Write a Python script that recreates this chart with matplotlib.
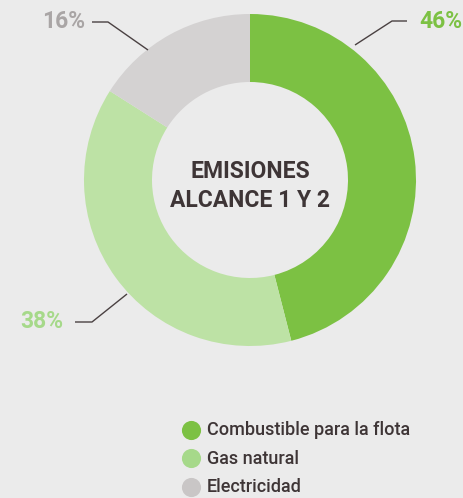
import matplotlib
matplotlib.use("Agg")
import matplotlib.pyplot as plt

categories = ["Combustible para la flota", "Gas natural", "Electricidad"]
values = [46, 38, 16]
pct_labels = ["46%", "38%", "16%"]
colors = ["#7cc143", "#bde2a5", "#d4d2d2"]
label_colors = ["#7cc143", "#a6d98a", "#a9a5a5"]
legend_colors = ["#7cc143", "#a6d98a", "#c9c6c6"]
center_title = "EMISIONES\nALCANCE 1 Y 2"

W, H = 464, 498
BG = "#ebebeb"
DARK = "#3e3536"

plt.rcParams['font.family'] = ['Roboto', 'DejaVu Sans']

fig = plt.figure(figsize=(W / 100, H / 100), dpi=100, facecolor=BG)
ax = fig.add_axes([0, 0, 1, 1])
ax.set_facecolor(BG)

def Y(y):
    return H - y

cx, cy, R, width = 250, 180, 166, 68
ax.pie(values, colors=colors, startangle=90, counterclock=False,
       center=(cx, Y(cy)), radius=R,
       wedgeprops=dict(width=width, linewidth=0), frame=True)
ax.set_xlim(0, W)
ax.set_ylim(0, H)
ax.set_aspect('equal')
ax.axis('off')

ax.text(cx, Y(186), center_title, ha='center', va='center', fontsize=16.5,
        fontweight='bold', color=DARK, linespacing=1.3)

# leader lines + percentage labels
leaders = [
    [(355, 45), (392, 21), (407, 21)],
    [(127, 294), (92, 322), (75, 322)],
    [(148, 50), (108, 22), (92, 22)],
]
label_pos = [(419, 21, 'left'), (63, 322, 'right'), (85, 21, 'right')]
for pts, (lx, ly, ha), txt, c in zip(leaders, label_pos, pct_labels, label_colors):
    ax.plot([p[0] for p in pts], [Y(p[1]) for p in pts], color="#4a4142", lw=1.0,
            solid_capstyle='butt')
    ax.text(lx, Y(ly), txt, ha=ha, va='center', fontsize=16.5, fontweight='bold', color=c)

# legend
for i, (cat, c) in enumerate(zip(categories, legend_colors)):
    yy = 430 + 28.5 * i
    ax.scatter([191], [Y(yy)], s=190, color=c, linewidths=0)
    ax.text(207, Y(yy), cat, ha='left', va='center', fontsize=13, color=DARK,
            fontweight='medium')

fig.savefig("out.png", dpi=100, facecolor=BG)
